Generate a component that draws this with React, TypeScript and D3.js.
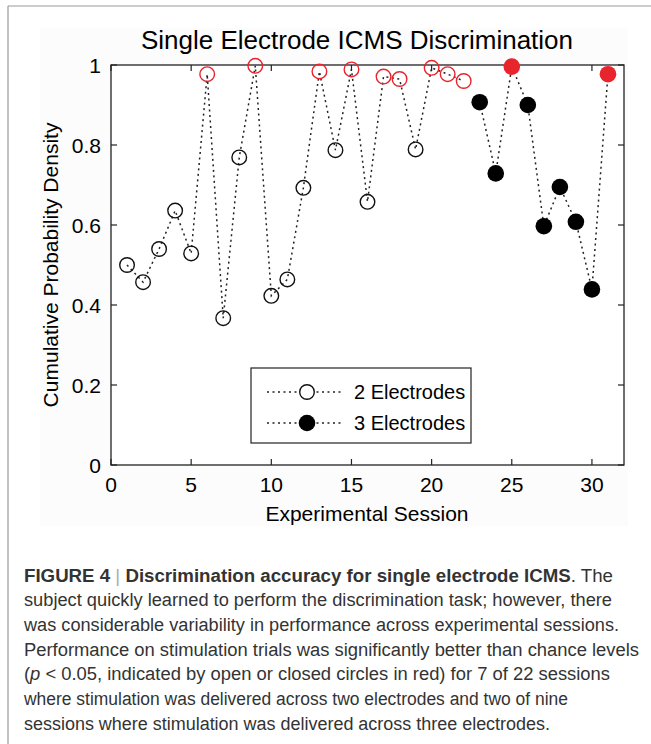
import React from "react";
import * as d3 from "d3";

// session numbers and cumulative probability density
const sessions2 = [1, 2, 3, 4, 5, 6, 7, 8, 9, 10, 11, 12, 13, 14, 15, 16, 17, 18, 19, 20, 21, 22];
const values2 = [0.5, 0.457, 0.54, 0.636, 0.529, 0.977, 0.367, 0.769, 0.998, 0.423, 0.464, 0.693, 0.984, 0.787, 0.989, 0.658, 0.971, 0.965, 0.789, 0.993, 0.977, 0.96];
const signif2 = [false, false, false, false, false, true, false, false, true, false, false, false, true, false, true, false, true, true, false, true, true, true];

const sessions3 = [23, 24, 25, 26, 27, 28, 29, 30, 31];
const values3 = [0.907, 0.729, 0.996, 0.9, 0.597, 0.695, 0.608, 0.439, 0.977];
const signif3 = [false, false, true, false, false, false, false, false, true];

const xTicks = [0, 5, 10, 15, 20, 25, 30];
const yTicks = [0, 0.2, 0.4, 0.6, 0.8, 1];
const legendLabels = ["2 Electrodes", "3 Electrodes"];

const captionLines = [
  "subject quickly learned to perform the discrimination task; however, there",
  "was considerable variability in performance across experimental sessions.",
  "Performance on stimulation trials was significantly better than chance levels",
  "(p < 0.05, indicated by open or closed circles in red) for 7 of 22 sessions",
  "where stimulation was delivered across two electrodes and two of nine",
  "sessions where stimulation was delivered across three electrodes.",
];
const captionWidths = [588, 595, 615, 586, 544, 526];

const W = 651;
const H = 744;
const margin = { left: 111, top: 65, right: 27, bottom: 279 };
const font = "'Liberation Sans', Arial, sans-serif";
const RED = "#e8242c";

export default function App() {
  const x = d3.scaleLinear().domain([0, 32]).range([margin.left, W - margin.right]);
  const y = d3.scaleLinear().domain([0, 1]).range([H - margin.bottom, margin.top]);
  const [x0, x1] = x.range();
  const [y0, y1] = y.range();

  const line = d3
    .line<[number, number]>()
    .x((d) => x(d[0]))
    .y((d) => y(d[1]));

  const pts2: [number, number][] = sessions2.map((s, i) => [s, values2[i]]);
  const pts3: [number, number][] = sessions3.map((s, i) => [s, values3[i]]);

  const tick = 6;
  const capY = 581.5;
  const capStep = 24.7;

  return (
    <svg width={W} height={H} style={{ position: "absolute", left: 0, top: 0, background: "#fff" }} fontFamily={font}>
      {/* figure frame */}
      <line x1={8} x2={8} y1={6} y2={H} stroke="#999" strokeWidth={1.2} />
      <line x1={8} x2={W} y1={6} y2={6} stroke="#999" strokeWidth={1.2} />
      <rect x={40} y={28} width={588} height={498} fill="#fcfcfc" />

      <text x={357} y={49} textAnchor="middle" fontSize={26}>
        Single Electrode ICMS Discrimination
      </text>

      <rect x={x0} y={y1} width={x1 - x0} height={y0 - y1} fill="#fff" stroke="#222" strokeWidth={1.3} />

      {xTicks.map((t) => (
        <g key={"x" + t}>
          <line x1={x(t)} x2={x(t)} y1={y0} y2={y0 - tick} stroke="#222" strokeWidth={1.2} />
          <line x1={x(t)} x2={x(t)} y1={y1} y2={y1 + tick} stroke="#222" strokeWidth={1.2} />
          <text x={x(t)} y={y0 + 27} textAnchor="middle" fontSize={21}>
            {t}
          </text>
        </g>
      ))}
      {yTicks.map((t) => (
        <g key={"y" + t}>
          <line x1={x0} x2={x0 + tick} y1={y(t)} y2={y(t)} stroke="#222" strokeWidth={1.2} />
          <line x1={x1} x2={x1 - tick} y1={y(t)} y2={y(t)} stroke="#222" strokeWidth={1.2} />
          <text x={x0 - 10} y={y(t) + 7.5} textAnchor="end" fontSize={21}>
            {d3.format("~g")(t)}
          </text>
        </g>
      ))}

      <text x={367} y={521} textAnchor="middle" fontSize={21}>
        Experimental Session
      </text>
      <text transform={`translate(58,${(y0 + y1) / 2}) rotate(-90)`} textAnchor="middle" fontSize={21}>
        Cumulative Probability Density
      </text>

      <path d={line(pts2) || ""} fill="none" stroke="#222" strokeWidth={1.5} strokeDasharray="2 3.5" />
      <path d={line(pts3) || ""} fill="none" stroke="#222" strokeWidth={1.5} strokeDasharray="2 3.5" />

      {pts2.map((d, i) => (
        <circle key={"o" + i} cx={x(d[0])} cy={y(d[1])} r={7.3} fill="none" stroke={signif2[i] ? RED : "#111"} strokeWidth={1.4} />
      ))}
      {pts3.map((d, i) => (
        <circle key={"f" + i} cx={x(d[0])} cy={y(d[1])} r={8.3} fill={signif3[i] ? RED : "#000"} />
      ))}

      {/* legend */}
      <rect x={251} y={368} width={220} height={75} fill="#fff" stroke="#222" strokeWidth={1.2} />
      {legendLabels.map((lab, i) => {
        const ly = 392 + i * 31;
        return (
          <g key={lab}>
            <line x1={267} x2={344} y1={ly} y2={ly} stroke="#222" strokeWidth={1.3} strokeDasharray="2 3.5" />
            {i === 0 ? (
              <circle cx={307} cy={ly} r={7.3} fill="#fff" stroke="#111" strokeWidth={1.4} />
            ) : (
              <circle cx={307} cy={ly} r={8.3} fill="#000" />
            )}
            <text x={354} y={ly + 7} fontSize={20}>
              {lab}
            </text>
          </g>
        );
      })}

      {/* caption */}
      <text x={24} y={capY} fontSize={18} fill="#333" textLength={589} lengthAdjust="spacingAndGlyphs">
        <tspan fontWeight="bold">FIGURE 4 </tspan>
        <tspan fill="#aaa">|</tspan>
        <tspan fontWeight="bold"> Discrimination accuracy for single electrode ICMS</tspan>
        <tspan>. The</tspan>
      </text>
      {captionLines.map((l, i) => (
        <text key={i} x={24} y={capY + (i + 1) * capStep} fontSize={18} fill="#333" textLength={captionWidths[i]} lengthAdjust="spacingAndGlyphs">
          {i === 3 ? (
            <>
              (<tspan fontStyle="italic">p</tspan>
              {l.slice(2)}
            </>
          ) : (
            l
          )}
        </text>
      ))}
    </svg>
  );
}
